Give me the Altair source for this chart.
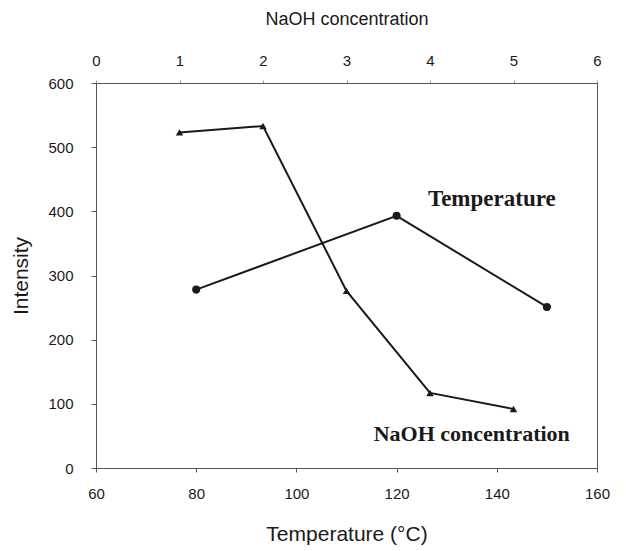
import altair as alt
import pandas as pd

# Intensity vs temperature (bottom axis)
temp_c = [80, 120, 150]
temp_intensity = [278, 393, 251]

# Intensity vs NaOH concentration (top axis)
naoh_conc = [1, 2, 3, 4, 5]
naoh_intensity = [523, 533, 276, 117, 92]

# Series labels placed in temperature/intensity coordinates
label_text = ["Temperature", "NaOH concentration"]
label_temp = [139, 135]
label_intensity = [419, 53]
label_size = [23, 22]

temp_df = pd.DataFrame({"t": temp_c, "i": temp_intensity})
naoh_df = pd.DataFrame({"c": naoh_conc, "i": naoh_intensity})
label_df = pd.DataFrame({"t": label_temp, "i": label_intensity, "txt": label_text, "sz": label_size})

ink = "#1a1a1a"
font = "Liberation Sans"

y_enc = alt.Y(
    "i:Q",
    scale=alt.Scale(domain=[0, 600], nice=False),
    axis=alt.Axis(
        title="Intensity", values=[0, 100, 200, 300, 400, 500, 600],
        titleFontSize=21, titleFont=font, titleFontWeight="normal", titleColor=ink,
        titlePadding=16, labelFontSize=15, labelFont=font, labelColor=ink,
        tickColor="#555", domainColor="#555", tickSize=5, grid=False, labelPadding=18,
        labelFlush=False,
    ),
)

x_temp = alt.X(
    "t:Q",
    scale=alt.Scale(domain=[60, 160], nice=False),
    axis=alt.Axis(
        orient="bottom", title="Temperature (°C)", values=[60, 80, 100, 120, 140, 160],
        titleFontSize=21, titleFont=font, titleFontWeight="normal", titleColor=ink,
        titlePadding=22, labelFontSize=15, labelFont=font, labelColor=ink,
        tickColor="#555", domainColor="#555", tickSize=4, grid=False, labelPadding=14,
        labelFlush=False,
    ),
)

x_naoh = alt.X(
    "c:Q",
    scale=alt.Scale(domain=[0, 6], nice=False),
    axis=alt.Axis(
        orient="top", title="NaOH concentration", values=[0, 1, 2, 3, 4, 5, 6], format="d",
        titleFontSize=18, titleFont=font, titleFontWeight="normal", titleColor=ink,
        titlePadding=25, labelFontSize=15, labelFont=font, labelColor=ink,
        tickColor="#999", domainColor="#555", tickSize=3, grid=False, labelPadding=12,
        labelFlush=False,
    ),
)

temp_line = alt.Chart(temp_df).mark_line(color=ink, strokeWidth=2).encode(x=x_temp, y=y_enc)
temp_pts = alt.Chart(temp_df).mark_point(
    shape="circle", filled=True, size=65, color=ink, opacity=1
).encode(x="t:Q", y="i:Q")
labels = alt.Chart(label_df).mark_text(
    font="Liberation Serif", fontWeight="bold", color=ink, align="center", baseline="middle"
).encode(x="t:Q", y="i:Q", text="txt:N", size=alt.Size("sz:Q", scale=None, legend=None))

naoh_line = alt.Chart(naoh_df).mark_line(color=ink, strokeWidth=2).encode(x=x_naoh, y="i:Q")
naoh_pts = alt.Chart(naoh_df).mark_point(
    shape="triangle-up", filled=True, size=55, color=ink, opacity=1
).encode(x="c:Q", y="i:Q")

temp_layer = alt.layer(temp_line, temp_pts, labels)
naoh_layer = alt.layer(naoh_line, naoh_pts)

chart = (
    alt.layer(temp_layer, naoh_layer)
    .resolve_scale(x="independent")
    .properties(
        width=501, height=385,
        autosize=alt.AutoSizeParams(type="none"),
        padding={"left": 96, "top": 83, "right": 28, "bottom": 83},
        background="white",
    )
    .configure_view(stroke="#555", strokeWidth=1)
)

chart.save("out.html", embed_options={"renderer": "svg", "actions": False})
